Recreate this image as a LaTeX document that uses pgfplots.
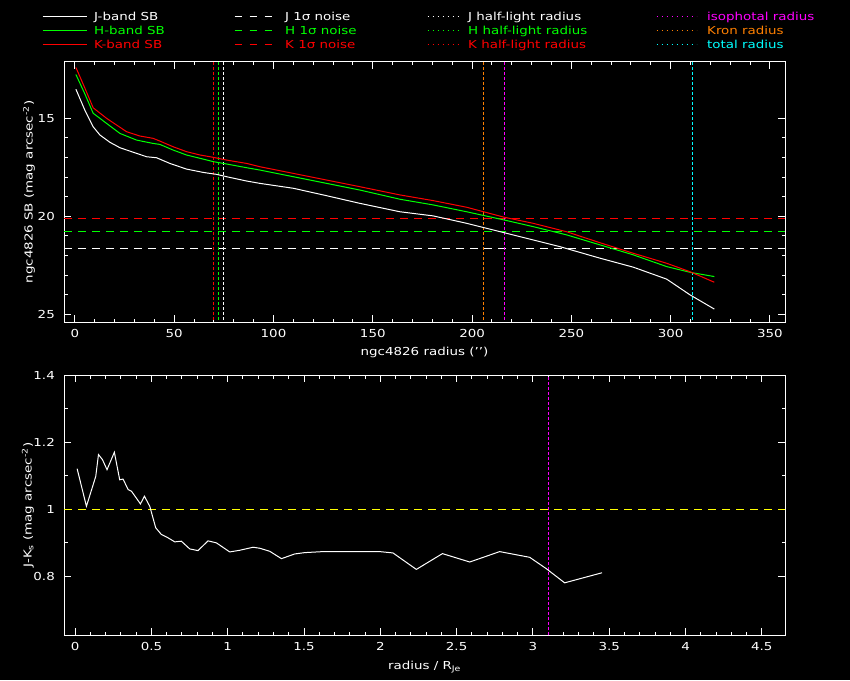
\documentclass[border=0pt]{standalone}
\usepackage{fontspec}
\setmainfont{DejaVu Sans}[FakeStretch=1.22]
\usepackage{pgfplots}
\pgfplotsset{compat=1.18}
\definecolor{pgreen}{rgb}{0,1,0}
\definecolor{pred}{rgb}{1,0,0}
\definecolor{pmag}{rgb}{1,0,1}
\definecolor{porange}{rgb}{1,0.5,0}
\definecolor{pcyan}{rgb}{0,1,1}
\definecolor{pyellow}{rgb}{1,1,0}
\newcommand{\pf}{\fontsize{11}{13}\selectfont}
\pgfplotsset{
  pg/.style={
    scale only axis, width=721pt, height=260pt,
    axis line style={white, line width=1pt},
    every tick/.style={white, line width=1pt},
    major tick length=7pt, minor tick length=3.5pt,
    tick align=inside,
    xtick pos=both, ytick pos=both,
    xticklabel pos=bottom, yticklabel pos=left,
    tick label style={text=white, font=\pf},
    label style={text=white, font=\pf},
    /pgf/number format/assume math mode=true,
    xticklabel style={anchor=north, inner sep=0pt, yshift=-7.5pt},
    yticklabel style={anchor=east, inner sep=0pt, xshift=-9pt},
  },
  vdot/.style={line width=1pt, dash pattern=on 3pt off 2pt, forget plot},
  hdash/.style={line width=1pt, dash pattern=on 8pt off 6pt, forget plot},
  sline/.style={line width=1pt, forget plot},
  legA/.style={legend image code/.code={\draw[##1] (0pt,0pt)--(44pt,0pt);}},
  legB/.style={legend image code/.code={\draw[##1] (0pt,0pt)--(32pt,0pt);}},
  legC/.style={legend image code/.code={\draw[##1] (0pt,0pt)--(40pt,0pt);}},
  ldash/.style={dash pattern=on 7pt off 8pt},
  ldot/.style={dash pattern=on 1.2pt off 3.8pt},
}
\begin{document}
\pf%
\begin{tikzpicture}[x=1pt,y=1pt]
\fill[black] (0,0) rectangle (850,680);
\begin{axis}[pg,
  at={(64pt,358pt)}, anchor=south west,
  xmin=-5.5, xmax=357.6, ymin=12.12, ymax=25.4, y dir=reverse,
  xtick={0,50,100,150,200,250,300,350}, ytick={15,20,25},
  minor x tick num=4, minor y tick num=4,
  xlabel={ngc4826 radius (\symbol{39}\symbol{39})},
  ylabel={ngc4826 SB (mag arcsec\textsuperscript{-2})},
  xlabel style={at={(axis description cs:0.5,-0.1154)}, anchor=center},
  ylabel style={at={(axis description cs:-0.0485,0.5)}, anchor=center},
  legend columns=4,
  legend cell align=left,
  legend style={draw=none, fill=none, inner sep=0pt,
    at={(-0.0305,1.19038)}, anchor=north west,
    nodes={inner sep=0pt, text height=8pt, text depth=0pt, font=\pf},
    row sep=6pt, column sep=0pt,
    /tikz/every even column/.style={column sep=0pt},
    /tikz/every odd column/.style={column sep=0pt}},
]
% legend row 1
\addlegendimage{white, line width=1pt, legA}
\addlegendentry{\hspace{7pt}\makebox[140pt][l]{\textcolor{white}{J-band SB}}}
\addlegendimage{white, line width=1pt, ldash, legA}
\addlegendentry{\hspace{6pt}\makebox[142pt][l]{\textcolor{white}{J 1σ noise}}}
\addlegendimage{white, line width=1pt, ldot, legB}
\addlegendentry{\hspace{8pt}\makebox[188pt][l]{\textcolor{white}{J half-light radius}}}
\addlegendimage{pmag, line width=1pt, ldot, legC}
\addlegendentry{\hspace{10pt}\textcolor{pmag}{isophotal radius}}
% legend row 2
\addlegendimage{pgreen, line width=1pt, legA}
\addlegendentry{\hspace{7pt}\makebox[140pt][l]{\textcolor{pgreen}{H-band SB}}}
\addlegendimage{pgreen, line width=1pt, ldash, legA}
\addlegendentry{\hspace{6pt}\makebox[142pt][l]{\textcolor{pgreen}{H 1σ noise}}}
\addlegendimage{pgreen, line width=1pt, ldot, legB}
\addlegendentry{\hspace{8pt}\makebox[188pt][l]{\textcolor{pgreen}{H half-light radius}}}
\addlegendimage{porange, line width=1pt, ldot, legC}
\addlegendentry{\hspace{10pt}\textcolor{porange}{Kron radius}}
% legend row 3
\addlegendimage{pred, line width=1pt, legA}
\addlegendentry{\hspace{7pt}\makebox[140pt][l]{\textcolor{pred}{K-band SB}}}
\addlegendimage{pred, line width=1pt, ldash, legA}
\addlegendentry{\hspace{6pt}\makebox[142pt][l]{\textcolor{pred}{K 1σ noise}}}
\addlegendimage{pred, line width=1pt, ldot, legB}
\addlegendentry{\hspace{8pt}\makebox[188pt][l]{\textcolor{pred}{K half-light radius}}}
\addlegendimage{pcyan, line width=1pt, ldot, legC}
\addlegendentry{\hspace{10pt}\textcolor{pcyan}{total radius}}

% noise levels
\addplot[hdash, pred] coordinates {(-5.5,20.12) (357.6,20.12)};
\addplot[hdash, pgreen] coordinates {(-5.5,20.78) (357.6,20.78)};
\addplot[hdash, white] coordinates {(-5.5,21.65) (357.6,21.65)};
% radii
\addplot[vdot, pred] coordinates {(69.7,12.12) (69.7,25.4)};
\addplot[vdot, pgreen] coordinates {(72.2,12.12) (72.2,25.4)};
\addplot[vdot, white] coordinates {(74.7,12.12) (74.7,25.4)};
\addplot[vdot, porange] coordinates {(205.6,12.12) (205.6,25.4)};
\addplot[vdot, pmag] coordinates {(216.2,12.12) (216.2,25.4)};
\addplot[vdot, pcyan] coordinates {(310.9,12.12) (310.9,25.4)};
% J band
\addplot[sline, white] table {
0.5 13.51
5 14.58
9.2 15.43
12.6 15.85
17.6 16.22
22.7 16.50
29.4 16.73
36.1 16.96
41.1 17.01
47.8 17.30
56.2 17.59
64.6 17.76
71.4 17.86
76.4 17.98
86.5 18.20
93.2 18.32
110 18.57
126.8 18.95
143.5 19.34
163.7 19.77
180.4 19.98
197.3 20.36
216.2 20.84
230.8 21.21
244.2 21.55
264.4 22.14
281.2 22.60
298 23.21
309.7 24.01
322 24.74
};
% H band
\addplot[sline, pgreen] table {
0.5 12.76
5 13.75
9.2 14.74
16 15.26
22.7 15.77
31.1 16.11
39.4 16.28
42.8 16.33
49.5 16.62
56.2 16.87
63 17.04
69.7 17.21
76.4 17.33
86.5 17.52
93.2 17.64
110 17.98
126.8 18.32
143.5 18.66
163.7 19.13
180.4 19.42
197.3 19.77
216.2 20.19
230.8 20.53
247.6 20.95
264.4 21.46
281.2 21.97
298 22.57
309.7 22.86
322 23.08
};
% K band
\addplot[sline, pred] table {
0.5 12.40
5 13.45
9.2 14.46
16 15.00
26 15.68
32.7 15.90
39.4 16.02
42.8 16.16
49.5 16.45
56.2 16.70
63 16.87
69.7 16.99
76.4 17.13
86.5 17.30
93.2 17.47
110 17.81
126.8 18.15
143.5 18.49
163.7 18.91
180.4 19.20
197.3 19.54
216.2 20.05
230.8 20.36
247.6 20.79
264.4 21.35
281.2 21.89
298 22.40
309.7 22.83
322 23.37
};
\end{axis}

\begin{axis}[pg,
  at={(64pt,45pt)}, anchor=south west,
  xmin=-0.073, xmax=4.652, ymin=0.6256, ymax=1.4,
  xtick={0,0.5,1,1.5,2,2.5,3,3.5,4,4.5}, ytick={0.8,1,1.2,1.4},
  minor x tick num=4, minor y tick num=1,
  xlabel={radius / R\textsubscript{Je}},
  ylabel={J-K\textsubscript{s} (mag arcsec\textsuperscript{-2})},
  xlabel style={at={(axis description cs:0.5,-0.1335)}, anchor=base},
  ylabel style={at={(axis description cs:-0.05,0.5)}, anchor=center},
]
\addplot[hdash, pyellow] coordinates {(-0.073,1) (4.652,1)};
\addplot[vdot, pmag] coordinates {(3.099,0.6256) (3.099,1.4)};
\addplot[sline, white] table {
0.013 1.121
0.074 1.009
0.135 1.098
0.153 1.163
0.179 1.148
0.209 1.118
0.257 1.170
0.292 1.088
0.314 1.090
0.347 1.059
0.369 1.054
0.428 1.016
0.454 1.039
0.489 1.009
0.528 0.945
0.565 0.925
0.609 0.915
0.653 0.903
0.696 0.905
0.751 0.882
0.805 0.877
0.871 0.906
0.926 0.900
1.013 0.873
1.079 0.878
1.166 0.887
1.210 0.884
1.275 0.875
1.352 0.853
1.439 0.867
1.505 0.871
1.625 0.874
1.996 0.874
2.083 0.870
2.236 0.821
2.407 0.868
2.586 0.843
2.782 0.874
2.979 0.857
3.088 0.823
3.208 0.781
3.453 0.811
};
\end{axis}
\pgfresetboundingbox
\useasboundingbox (0,0) rectangle (850,680);
\end{tikzpicture}
\end{document}
